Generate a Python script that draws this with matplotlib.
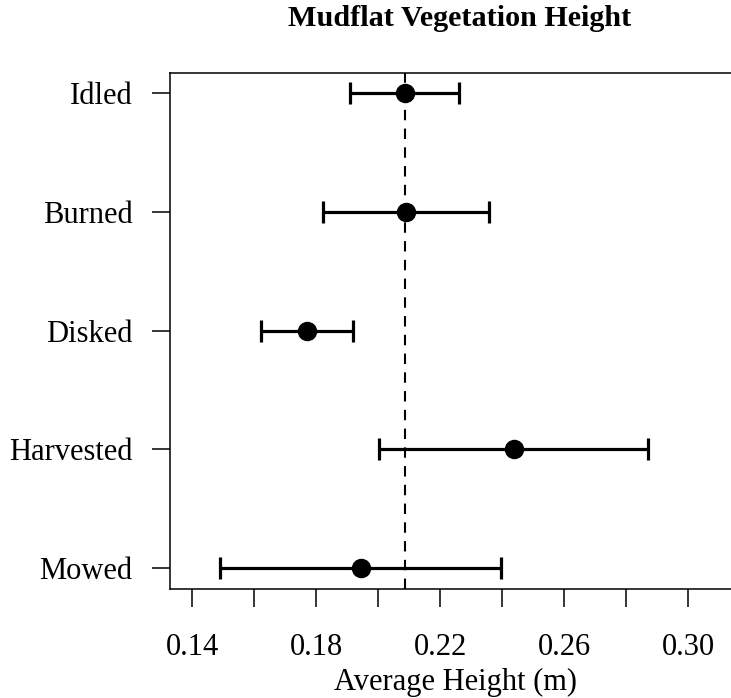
import numpy as np
import matplotlib.pyplot as plt

plt.rcParams['font.family'] = ['Liberation Serif', 'DejaVu Serif']

# data
treatments = ['Idled', 'Burned', 'Disked', 'Harvested', 'Mowed']
mean_height = [0.2086, 0.2090, 0.1770, 0.2437, 0.1944]
lower = [0.1911, 0.1823, 0.1622, 0.2003, 0.1490]
upper = [0.2260, 0.2357, 0.1920, 0.2871, 0.2398]
ref_line = 0.2086
xticks = [0.14, 0.16, 0.18, 0.20, 0.22, 0.24, 0.26, 0.28, 0.30]
xticklabels = ['0.14', '', '0.18', '', '0.22', '', '0.26', '', '0.30']

fig = plt.figure(figsize=(7.31, 6.98), dpi=100)
# right edge of the box runs past the picture, as in the original
ax = fig.add_axes([170 / 731, 1 - 589 / 698, 590 / 731, 516 / 698])

ypos = np.arange(len(treatments))[::-1] + 1
mean_height = np.array(mean_height)
err = [mean_height - np.array(lower), np.array(upper) - mean_height]

ax.axvline(ref_line, color='black', lw=1.5, dashes=(5, 4), zorder=1)
ax.errorbar(mean_height, ypos, xerr=err, fmt='o', color='black',
            ms=13, elinewidth=2.3, capsize=8, capthick=2.3, zorder=3)

ax.set_xlim(0.1329, 0.3232)
ax.set_ylim(0.825, 5.17)
ax.set_yticks(ypos)
ax.set_yticklabels(treatments)
ax.set_xticks(xticks)
ax.set_xticklabels(xticklabels)
ax.tick_params(axis='both', direction='out', length=13, width=1.1,
               labelsize=22)
ax.tick_params(axis='y', pad=14)
ax.tick_params(axis='x', pad=19)
for s in ax.spines.values():
    s.set_linewidth(1.1)

ax.set_xlabel('Average Height (m)', fontsize=22, labelpad=4)
ax.xaxis.label.set_x((455 - 170) / 590)
fig.text(459.5 / 731, 1 - 18 / 698, 'Mudflat Vegetation Height',
         fontsize=21.7, fontweight='bold', ha='center', va='center')

fig.savefig('out.png', dpi=100)
